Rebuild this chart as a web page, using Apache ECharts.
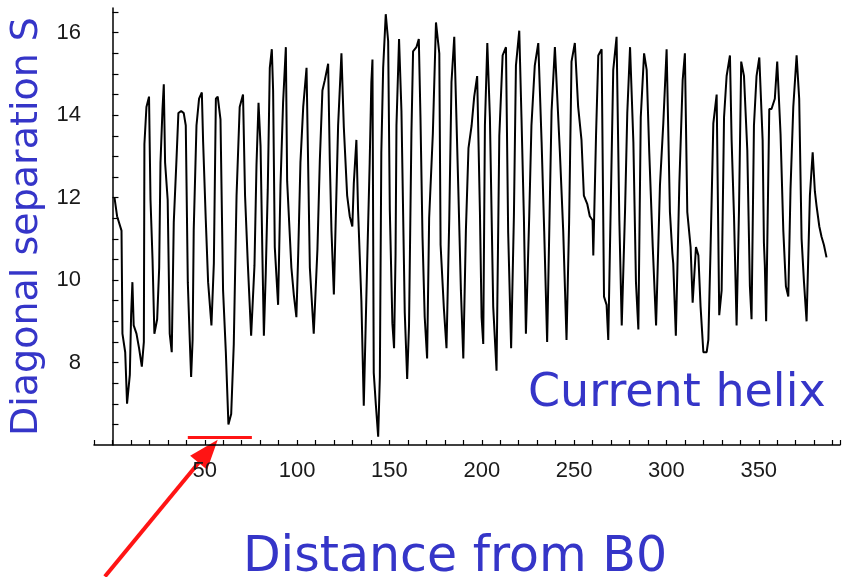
<!DOCTYPE html>
<html>
<head>
<meta charset="utf-8">
<title>Diagonal separation</title>
<script src="https://cdn.jsdelivr.net/npm/echarts@6/dist/echarts.min.js"></script>
<style>
  html, body { margin: 0; padding: 0; background: #fff; }
  #chart { width: 842px; height: 577px; }
</style>
</head>
<body>
<div id="chart"></div>
<script>
// values: distance from B0 and diagonal separation S
const distance = [
  1.1, 2.5, 4.9, 5.4, 6.9, 7.9, 9.4, 10.1, 10.8, 11.5, 13.0, 14.4, 15.9, 17.0, 17.3, 18.4, 19.8,
  20.6, 21.7, 22.7, 24.2, 25.3, 26.0, 27.1, 27.8, 28.5, 29.9, 31.0, 32.1, 33.2, 34.6, 35.7, 37.2,
  38.6, 39.7, 40.8, 41.9, 42.6, 43.4, 44.0, 45.5, 46.9, 48.4, 49.1, 50.5, 51.8, 53.6, 54.9, 56.0,
  57.0, 58.5, 59.9, 61.4, 62.8, 64.3, 65.7, 67.2, 68.9, 70.7, 71.8, 73.3, 75.1, 76.9, 78.0, 79.1,
  80.2, 81.2, 82.0, 83.0, 84.1, 85.2, 86.3, 87.0, 87.9, 89.7, 91.0, 92.4, 93.9, 94.6, 96.9, 98.2,
  99.6, 100.6, 101.8, 103.3, 105.1, 106.9, 109.0, 111.0, 112.3, 113.7, 115.0, 116.8, 117.7, 118.6,
  119.9, 122.2, 124.0, 125.3, 127.1, 128.5, 129.9, 130.7, 132.1, 133.0, 134.8, 136.1, 137.9, 139.3,
  140.2, 140.8, 141.5, 142.6, 143.9, 144.8, 145.6, 146.6, 148.0, 149.3, 150.2, 151.6, 152.5, 153.3,
  153.8, 155.2, 156.5, 158.3, 159.6, 160.6, 161.9, 162.8, 164.6, 165.9, 166.8, 167.9, 169.1, 170.4,
  171.5, 173.5, 175.2, 177.0, 177.7, 179.5, 180.9, 182.4, 183.6, 185.1, 187.3, 188.7, 190.0, 191.4,
  192.8, 194.5, 195.9, 197.5, 199.0, 199.9, 200.8, 201.7, 203.0, 204.4, 206.2, 208.0, 209.5, 211.3,
  213.1, 214.3, 215.9, 217.4, 218.5, 220.3, 221.5, 222.8, 223.9, 225.7, 226.9, 228.7, 230.6, 232.4,
  233.8, 235.4, 237.8, 239.6, 242.3, 244.1, 245.9, 247.3, 248.6, 250.4, 252.2, 254.0, 255.3, 257.1,
  258.5, 260.0, 260.4, 261.9, 263.1, 264.9, 266.2, 267.6, 268.5, 269.8, 271.2, 273.0, 274.5, 275.8,
  277.6, 278.8, 280.3, 282.1, 283.5, 284.8, 286.1, 287.9, 289.3, 290.7, 292.6, 294.4, 296.5, 298.3,
  300.1, 301.9, 303.2, 303.7, 305.1, 307.0, 308.8, 310.0, 311.3, 313.1, 314.2, 316.0, 317.3, 318.5,
  320.0, 321.8, 322.7, 323.9, 325.4, 327.2, 328.6, 329.9, 331.2, 332.6, 334.4, 335.3, 336.6, 338.0,
  339.3, 340.5, 342.0, 343.8, 345.2, 346.1, 347.4, 348.8, 350.3, 352.1, 352.8, 353.3, 354.0, 355.7,
  356.9, 358.7, 360.0, 361.8, 363.3, 364.7, 366.0, 367.2, 368.7, 370.5, 371.9, 373.2, 374.5, 375.9,
  377.7, 379.2, 380.4, 381.3, 382.8, 384.0, 385.3, 386.7
];
const separation = [
  12.0, 11.55, 11.2, 8.7, 8.25, 7.0, 7.7, 9.15, 9.95, 8.9, 8.7, 8.35, 7.9, 8.5, 13.3, 14.2, 14.45,
  11.95, 10.5, 8.7, 9.05, 10.3, 12.85, 14.15, 14.75, 12.85, 11.95, 8.7, 8.25, 11.4, 12.85, 14.05, 14.1,
  14.05, 13.75, 9.95, 8.5, 7.65, 8.55, 11.2, 13.75, 14.4, 14.55, 13.35, 11.5, 9.95, 8.9, 10.4, 14.4,
  14.45, 13.9, 9.75, 8.25, 6.5, 6.75, 8.45, 12.05, 14.2, 14.5, 12.05, 10.4, 8.65, 10.35, 12.8, 14.3,
  13.25, 10.6, 8.65, 10.15, 12.2, 15.15, 15.6, 14.6, 10.8, 9.4, 12.3, 14.3, 15.65, 12.4, 10.3, 9.65,
  9.1, 10.65, 12.85, 14.2, 15.15, 10.3, 8.7, 10.75, 12.9, 14.6, 14.85, 15.25, 12.9, 11.2,
  9.65, 13.75, 15.5, 13.7, 12.05, 11.55, 11.3, 12.35, 13.4, 11.7, 9.5, 6.95, 10.35, 12.85,
  14.8, 15.35, 7.75, 7.0, 6.2, 7.65, 13.1, 15.15, 16.45, 15.8, 11.7, 8.95, 8.35, 10.6,
  13.75, 15.85, 14.1, 9.2, 7.6, 8.9, 13.55, 15.55, 15.65, 15.85, 13.95, 11.05, 9.1, 8.1,
  11.5, 13.55, 16.25, 15.5, 10.85, 9.3, 8.35, 11.5, 14.8, 15.9, 12.2, 9.75, 8.1, 11.2,
  13.2, 13.75, 14.45, 14.95, 11.65, 9.1, 8.45, 13.75, 15.75, 13.95, 9.35, 7.8, 13.5, 15.45,
  15.65, 11.15, 8.35, 11.55, 15.2, 16.05, 13.95, 11.55, 8.7, 11.55, 13.75, 15.2, 15.75, 13.35,
  11.2, 8.5, 14.1, 15.65, 13.1, 11.2, 8.55, 11.4, 15.3, 15.75, 14.2, 13.4, 12.05, 11.85,
  11.55, 11.45, 10.6, 13.55, 15.45, 15.6, 9.6, 9.4, 8.55, 11.7, 15.1, 15.9, 11.45, 8.9,
  11.7, 14.05, 15.65, 13.35, 9.95, 8.8, 13.95, 15.5, 15.1, 13.1, 10.8, 8.9, 12.3, 13.8,
  15.6, 11.65, 10.65, 10.4, 8.65, 12.35, 14.85, 15.5, 11.65, 10.8, 9.45, 10.8, 10.6, 9.35,
  8.25, 8.25, 8.55, 10.75, 13.8, 14.5, 9.15, 9.75, 13.95, 14.95, 15.45, 13.4, 11.55, 8.9,
  11.7, 15.3, 14.95, 13.15, 9.85, 9.05, 13.75, 14.95, 15.4, 13.4, 10.9, 10.35, 9.0, 14.15,
  14.15, 14.4, 15.3, 13.55, 11.2, 9.85, 9.6, 12.2, 14.2, 15.45, 14.4, 11.0, 9.95, 9.0,
  12.05, 13.1, 12.15, 11.8, 11.3, 11.05, 10.85, 10.55
];

// tick labels
const xTickLabels = [50, 100, 150, 200, 250, 300, 350];
const yTickLabels = [8, 10, 12, 14, 16];

// red annotation: bar under the deep minimum, arrow pointing at it
const markSpan = [40.8, 75.5];
const markLevel = 6.2;
const arrowFrom = [-4.1, 2.81];
const arrowTo = [57, 6.13];

const BLUE = '#3535c8';
const RED = '#ff1414';
const TITLE_FONT = '"Comic Sans MS", "DejaVu Sans", sans-serif';
const NUM_FONT = '"Liberation Sans", Arial, sans-serif';

const chart = echarts.init(document.getElementById('chart'), null, { renderer: 'canvas' });

/**
 * y tick positions every half unit, skipping the x axis level
 */
function halfSteps(from, to) {
  const out = [];
  for (let v = from; v <= to + 1e-9; v += 0.5) out.push(+v.toFixed(1));
  return out;
}

chart.setOption({
  animation: false,
  backgroundColor: '#fff',
  grid: { left: 94, right: 2, top: 8, bottom: 132, containLabel: false, outerBoundsMode: 'none' },
  xAxis: {
    type: 'value',
    min: -10,
    max: 394,
    interval: 10,
    splitLine: { show: false },
    axisLine: { lineStyle: { color: '#000', width: 1.5 } },
    axisTick: { inside: true, length: 5, lineStyle: { color: '#000', width: 1.2 } },
    axisLabel: {
      customValues: xTickLabels,
      margin: 15,
      color: '#1a1a1a',
      fontSize: 22,
      fontFamily: NUM_FONT
    },
    name: 'Distance from B0',
    nameLocation: 'middle',
    nameGap: 89,
    nameTextStyle: {
      color: BLUE,
      fontSize: 49,
      fontFamily: TITLE_FONT,
      padding: [0, 24, 0, 0]
    }
  },
  yAxis: {
    type: 'value',
    min: 6,
    max: 16.6,
    interval: 0.5,
    splitLine: { show: false },
    axisLine: { onZero: true, lineStyle: { color: '#000', width: 1.5 } },
    axisTick: {
      inside: true,
      length: 6,
      customValues: halfSteps(6.5, 16.5),
      lineStyle: { color: '#000', width: 1.2 }
    },
    axisLabel: {
      customValues: yTickLabels,
      margin: 13,
      color: '#1a1a1a',
      fontSize: 22,
      fontFamily: NUM_FONT
    },
    name: 'Diagonal separation S',
    nameLocation: 'middle',
    nameGap: 45,
    nameTextStyle: {
      color: BLUE,
      fontSize: 38,
      fontFamily: TITLE_FONT
    }
  },
  series: [{
    type: 'line',
    data: distance.map((d, i) => [d, separation[i]]),
    showSymbol: false,
    clip: true,
    lineStyle: { color: '#000', width: 2 },
    markLine: {
      silent: true,
      symbol: ['none', 'none'],
      label: { show: false },
      lineStyle: { color: RED, width: 3, type: 'solid' },
      data: [[
        { coord: [markSpan[0], markLevel] },
        { coord: [markSpan[1], markLevel] }
      ]]
    }
  }]
});

/**
 * arrow + caption, placed from data coordinates once the grid exists
 */
function drawAnnotations() {
  const p0 = chart.convertToPixel({ gridIndex: 0 }, arrowFrom);
  const p1 = chart.convertToPixel({ gridIndex: 0 }, arrowTo);
  const dx = p1[0] - p0[0];
  const dy = p1[1] - p0[1];
  const len = Math.hypot(dx, dy);
  const ux = dx / len, uy = dy / len;
  const headLen = 30, headHalf = 11;
  const bx = p1[0] - ux * headLen, by = p1[1] - uy * headLen;

  chart.setOption({
    graphic: [
      {
        type: 'line',
        silent: true,
        shape: { x1: p0[0], y1: p0[1], x2: bx, y2: by },
        style: { stroke: RED, lineWidth: 4 }
      },
      {
        type: 'polygon',
        silent: true,
        shape: {
          points: [
            [p1[0], p1[1]],
            [bx - uy * headHalf, by + ux * headHalf],
            [bx + uy * headHalf, by - ux * headHalf]
          ]
        },
        style: { fill: RED }
      },
      {
        type: 'text',
        silent: true,
        x: 528,
        y: 371,
        style: {
          text: 'Current helix',
          fill: BLUE,
          fontSize: 46,
          fontFamily: TITLE_FONT,
          verticalAlign: 'top'
        }
      }
    ]
  });
}

drawAnnotations();
</script>
</body>
</html>
